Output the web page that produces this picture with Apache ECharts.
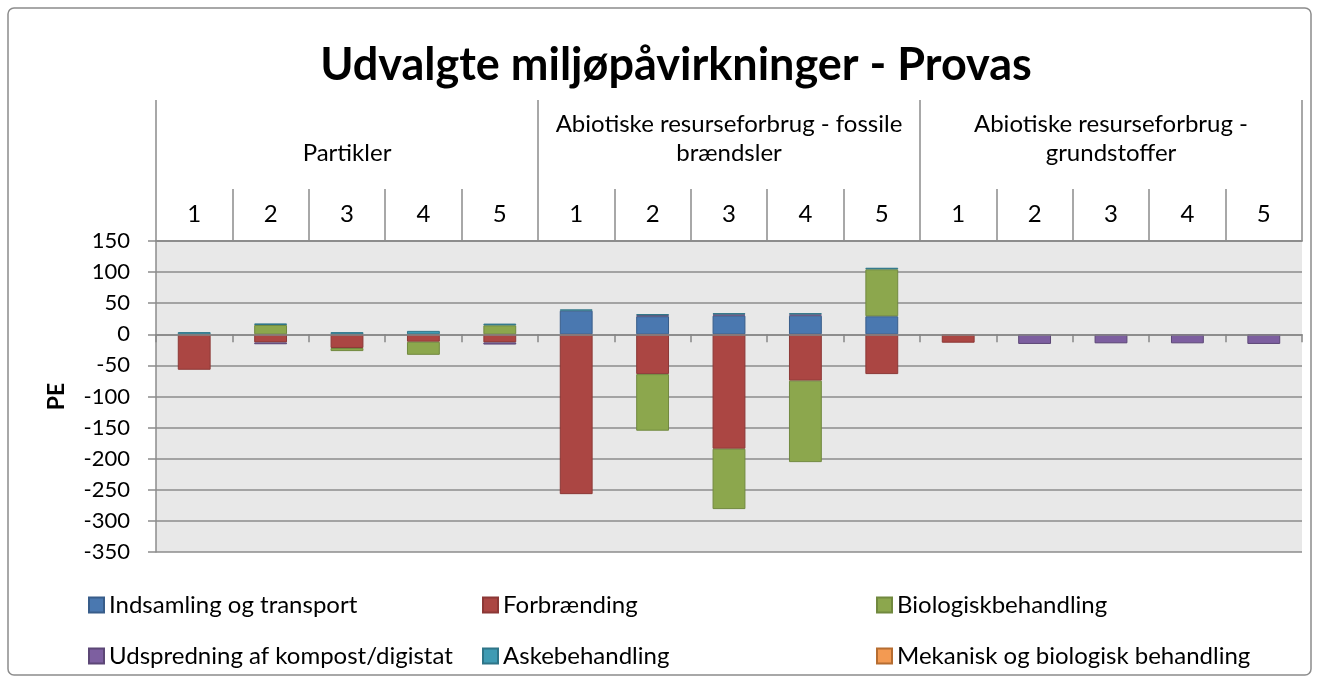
<!DOCTYPE html>
<html>
<head>
<meta charset="utf-8">
<script src="https://cdn.jsdelivr.net/npm/echarts@6/dist/echarts.min.js"></script>
<style>
  html, body { margin: 0; padding: 0; background: #fff; }
  #chart { width: 1319px; height: 683px; }
</style>
</head>
<body>
<div id="chart"></div>
<script>
const groups = ['Partikler', 'Abiotiske resurseforbrug - fossile\nbrændsler', 'Abiotiske resurseforbrug -\ngrundstoffer']
const scenarios = ['1', '2', '3', '4', '5', '1', '2', '3', '4', '5', '1', '2', '3', '4', '5']

// values per series, 5 scenarios x 3 groups
const indsamling = [0, 0, 0, 0, 0, 38, 29, 30, 30, 29, 0, 0, 0, 0, 0]
const forbraending = [-57, -13, -22, -12, -13, -257, -64, -184, -74.5, -64, -13.5, 0, 0, 0, 0]
const biologisk = [0, 15, -5, -21, 14.5, 0, -91, -97, -131, 75.5, 0, 0, 0, 0, 0]
const udspredning = [0, -3, 0, 0, -3.5, 0, 1.5, 2, 2, 0, 0, -15.5, -14.5, -14.5, -15.5]
const askebehandling = [3.5, 2.5, 3.5, 5.5, 2.7, 2, 2, 2, 2, 2.5, 0, 0, 0, 0, 0]
const mekanisk = [0, 0, 0, 0, 0, 0, 0, 0, 0, 0, 0, 0, 0, 0, 0]

const yTicks = { min: -350, max: 150, step: 50 }

const font = 'Lato'
const gray = '#8c8c8c'

const seriesDefs = [
  { name: 'Indsamling og transport', data: indsamling, color: '#4a78b0', border: '#385d8a' },
  { name: 'Forbrænding', data: forbraending, color: '#ab4643', border: '#8c3836' },
  { name: 'Biologiskbehandling', data: biologisk, color: '#8ca74d', border: '#71893f' },
  { name: 'Udspredning af kompost/digistat', data: udspredning, color: '#7d5fa0', border: '#5c4776' },
  { name: 'Askebehandling', data: askebehandling, color: '#3f9bb3', border: '#2f7588' },
  { name: 'Mekanisk og biologisk behandling', data: mekanisk, color: '#f39a52', border: '#b66d31' }
]

const box = { left: 156, right: 17, top: 241, bottom: 131 }

const chart = echarts.init(document.getElementById('chart'))

const legendBase = {
  orient: 'vertical',
  top: 591,
  padding: 0,
  itemWidth: 15,
  itemHeight: 15,
  itemGap: 23,
  icon: 'rect',
  selectedMode: false,
  textStyle: { fontFamily: font, fontSize: 24, color: '#000', lineHeight: 28 }
}

const option = {
  animation: false,
  textStyle: { fontFamily: font },
  title: {
    text: 'Udvalgte miljøpåvirkninger - Provas',
    left: 671,
    top: 38,
    textAlign: 'center',
    textStyle: { fontFamily: font, fontSize: 45, fontWeight: 'bold', color: '#000' }
  },
  graphic: [{
    type: 'rect',
    shape: { x: 8, y: 8, width: 1303, height: 667, r: 6 },
    style: { fill: 'none', stroke: gray, lineWidth: 1.5 },
    silent: true
  }],
  legend: [
    Object.assign({}, legendBase, { left: 88, data: [seriesDefs[0].name, seriesDefs[3].name] }),
    Object.assign({}, legendBase, { left: 482, data: [seriesDefs[1].name, seriesDefs[4].name] }),
    Object.assign({}, legendBase, { left: 876, data: [seriesDefs[2].name, seriesDefs[5].name] })
  ],
  // second grid only carries the category axis that crosses at 0, drawn over the plot background
  grid: [
    Object.assign({ show: true, backgroundColor: '#e8e8e8', borderWidth: 0 }, box),
    Object.assign({ show: false }, box)
  ],
  xAxis: [
    {
      type: 'category',
      data: scenarios,
      position: 'top',
      axisLine: { show: true, onZero: false, lineStyle: { color: gray, width: 1.5 } },
      axisTick: { show: true, interval: 0, length: 52, lineStyle: { color: gray, width: 1.5 } },
      axisLabel: { interval: 0, margin: 15, fontSize: 24, color: '#000', fontFamily: font }
    },
    {
      type: 'category',
      data: groups,
      position: 'top',
      axisLine: { show: true, onZero: false, lineStyle: { color: gray, width: 1.5 } },
      axisTick: { show: true, interval: 0, length: 141, lineStyle: { color: gray, width: 1.5 } },
      axisLabel: { interval: 0, margin: 73, fontSize: 24, lineHeight: 29, color: '#000', fontFamily: font }
    },
    {
      type: 'category',
      gridIndex: 1,
      data: scenarios,
      position: 'bottom',
      z: 10,
      axisLine: { show: true, onZero: true, lineStyle: { color: '#868686', width: 1.5 } },
      axisTick: { show: true, interval: 0, length: 8, lineStyle: { color: '#868686', width: 1.5 } },
      axisLabel: { show: false },
      splitLine: { show: false }
    }
  ],
  yAxis: [
    {
      type: 'value',
      min: yTicks.min,
      max: yTicks.max,
      interval: yTicks.step,
      name: 'PE',
      nameLocation: 'middle',
      nameRotate: 90,
      nameGap: 88,
      nameTextStyle: { fontFamily: font, fontSize: 23, fontWeight: 'bold', color: '#000' },
      axisLine: { show: true, lineStyle: { color: gray, width: 1.5 } },
      axisTick: { show: true, length: 8, lineStyle: { color: gray, width: 1.5 } },
      axisLabel: { margin: 26, fontSize: 22, color: '#000', fontFamily: font },
      splitLine: { lineStyle: { color: gray, width: 1.5 } }
    },
    {
      type: 'value',
      gridIndex: 1,
      min: yTicks.min,
      max: yTicks.max,
      interval: yTicks.step,
      axisLine: { show: false },
      axisTick: { show: false },
      axisLabel: { show: false },
      splitLine: { show: false }
    }
  ],
  series: seriesDefs.map(s => ({
    name: s.name,
    type: 'bar',
    stack: 'total',
    xAxisIndex: 0,
    yAxisIndex: 0,
    barWidth: '43%',
    // zero entries are left out so they draw no empty bordered slivers
    data: s.data.map(v => (v === 0 ? null : v)),
    itemStyle: { color: s.color, borderColor: s.border, borderWidth: 1 }
  }))
}

chart.setOption(option)
</script>
</body>
</html>
